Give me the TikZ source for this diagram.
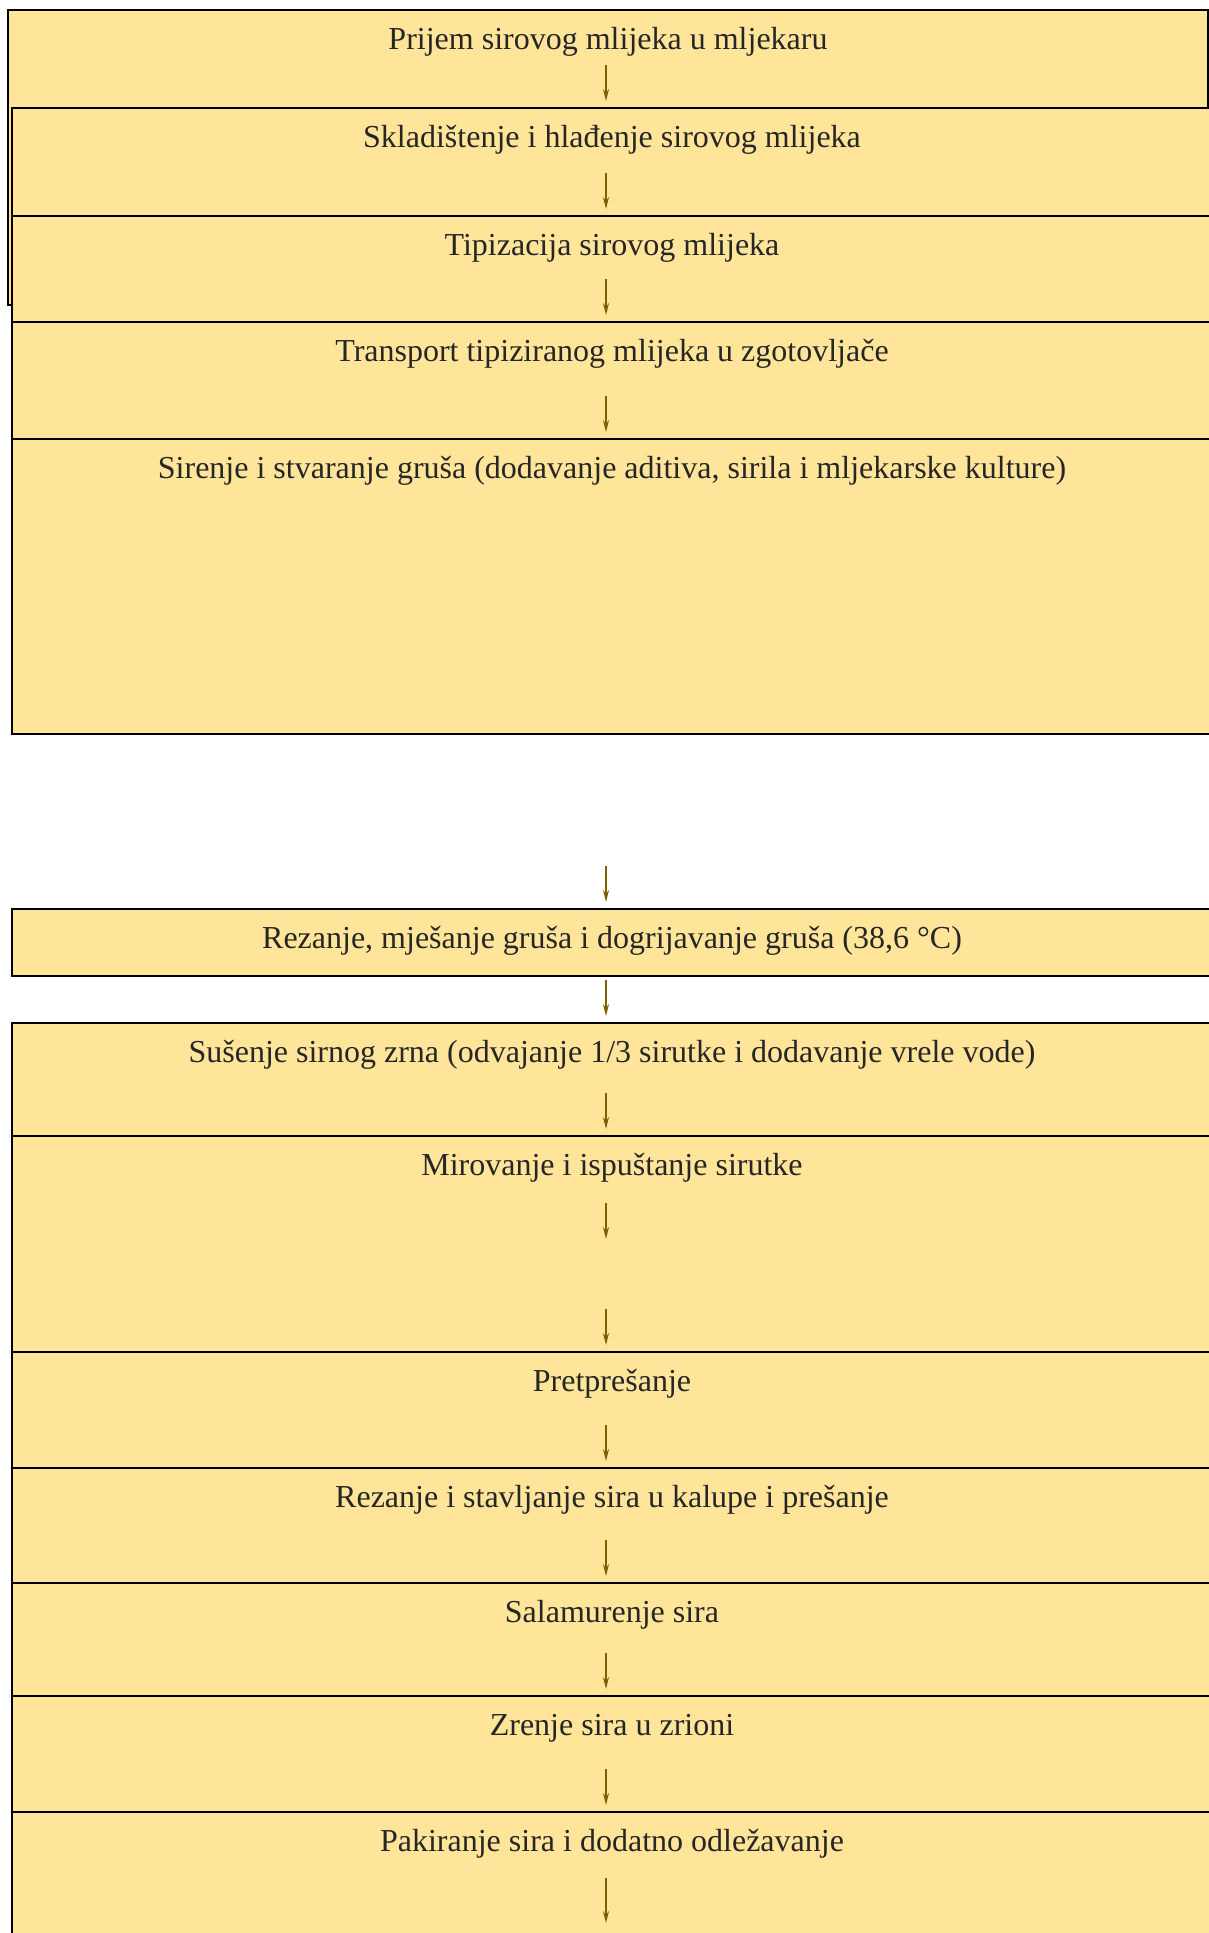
\documentclass[tikz,border=0pt]{standalone}
\usepackage{fontspec}
\setmainfont{Liberation Serif}
\usepackage{xcolor}
\usetikzlibrary{positioning,arrows.meta}
\definecolor{boxfill}{HTML}{FFE599}
\definecolor{arrowcol}{HTML}{7F6000}
\tikzstyle{stepbox} = [rectangle, minimum width=600pt, inner sep=0pt, outer sep=0pt, text height=19.5pt, draw=black, line width=1.1pt, fill=boxfill, text=black!85, font=\fontsize{16}{19}\selectfont]
\tikzstyle{arrow} = [draw=arrowcol, line width=0.8pt, -{Stealth[length=6pt,width=3pt]}]

\begin{document}
\begin{tikzpicture}[x=0.5pt, y=-0.5pt]

	\useasboundingbox (0,0) rectangle (1209,1933);
	\clip (0,0) rectangle (1209,1933);

	\node (b1) [stepbox, anchor=north west, text depth=128pt] at (8,10) {Prijem sirovog mlijeka u mljekaru};
	\node (b2) [stepbox, anchor=north west, text depth=34.5pt] at (12,108) {Skladištenje i hlađenje sirovog mlijeka};
	\node (b3) [stepbox, below=0pt of b2, text depth=33.5pt] {Tipizacija sirovog mlijeka};
	\node (b4) [stepbox, below=0pt of b3, text depth=39pt] {Transport tipiziranog mlijeka u zgotovljače};
	\node (b5) [stepbox, below=0pt of b4, text depth=128pt] {Sirenje i stvaranje gruša (dodavanje aditiva, sirila i mljekarske kulture)};
	\node (b6) [stepbox, below=87.5pt of b5, text depth=14pt] {Rezanje, mješanje gruša i dogrijavanje gruša (38,6 °C)};
	\node (b7) [stepbox, below=23.5pt of b6, text depth=37pt] {Sušenje sirnog zrna (odvajanje 1/3 sirutke i dodavanje vrele vode)};
	\node (b8) [stepbox, below=0pt of b7, text depth=88.5pt] {Mirovanje i ispuštanje sirutke};
	\node (b9) [stepbox, below=0pt of b8, text depth=38.5pt] {Pretprešanje};
	\node (b10) [stepbox, below=0pt of b9, text depth=38pt] {Rezanje i stavljanje sira u kalupe i prešanje};
	\node (b11) [stepbox, below=0pt of b10, text depth=37pt] {Salamurenje sira};
	\node (b12) [stepbox, below=0pt of b11, text depth=38.5pt] {Zrenje sira u zrioni};
	\node (b13) [stepbox, below=0pt of b12, text depth=80pt] {Pakiranje sira i dodatno odležavanje};

	\foreach \i in {2,...,13}
		\draw [arrow] ([xshift=-3pt,yshift=21.5pt]b\i.north) -- ([xshift=-3pt,yshift=3.5pt]b\i.north);
	\draw [arrow] ([xshift=-3pt,yshift=-33.5pt]b8.north) -- ([xshift=-3pt,yshift=-51.5pt]b8.north);
	\draw [arrow] ([xshift=-3pt,yshift=-33pt]b13.north) -- ([xshift=-3pt,yshift=-55.5pt]b13.north);

\end{tikzpicture}
\end{document}
